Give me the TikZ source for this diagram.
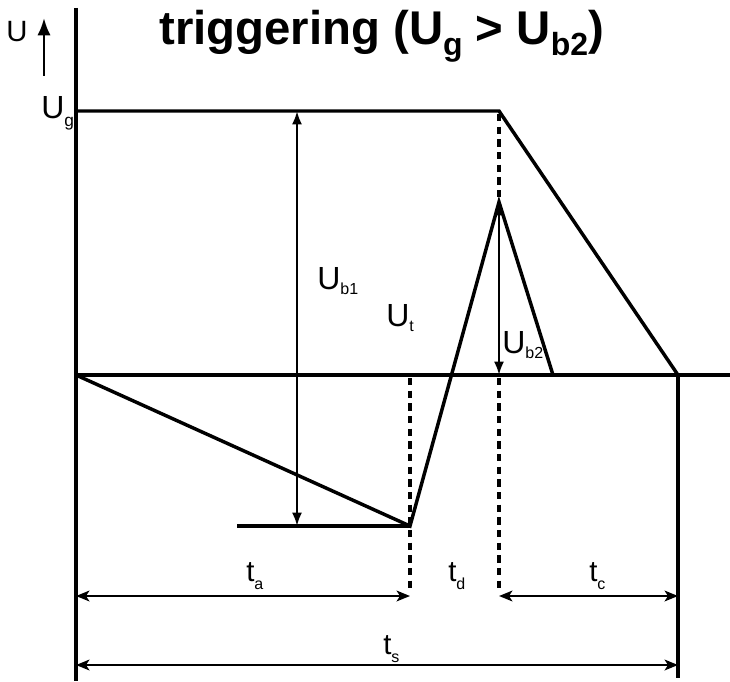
\documentclass[tikz,border=0pt]{standalone}
\usepackage{fontspec}
\setmainfont{Liberation Sans}
\usetikzlibrary{arrows.meta}
\newcommand\dnsub[3]{\raisebox{-#1}{\fontsize{#2}{#2}\selectfont #3}}
\begin{document}
\begin{tikzpicture}[x=0.75pt,y=-0.75pt,
  mainln/.style={line width=2.6pt,line join=miter},
  axisln/.style={line width=3.3pt},
  dimarrow/.style={line width=1.8pt,{Stealth[length=10pt,width=8pt,inset=2.5pt]}-{Stealth[length=10pt,width=8pt,inset=2.5pt]}},
  vararrow/.style={line width=1.8pt,{Latex[length=10pt,width=7.5pt]}-{Latex[length=10pt,width=7.5pt]}},
  dashln/.style={line width=2.6pt,dash pattern=on 5.5pt off 4pt},
  ulbl/.style={inner sep=0pt,anchor=base west,font=\fontsize{24}{24}\selectfont},
  tlbl/.style={inner sep=0pt,anchor=base west,font=\fontsize{22}{22}\selectfont},
]
\useasboundingbox (0,0) rectangle (730,681);
% points
\coordinate (axTop) at (76,8);
\coordinate (axBot) at (76,681);
\coordinate (O) at (76,375);
\coordinate (baseEnd) at (730,375);
\coordinate (G0) at (76,111);
\coordinate (G1) at (499,111);
\coordinate (R) at (678,375);
\coordinate (Rbot) at (678,678);
\coordinate (P) at (499,202);
\coordinate (F) at (553,375);
\coordinate (T) at (410,526);
\coordinate (L0) at (237,526);
\coordinate (A1top) at (297,111);
\coordinate (A1bot) at (297,526);
\coordinate (B2bot) at (499,375);
\coordinate (Ua) at (44,76);
\coordinate (Ub) at (44,18);
\coordinate (D1a) at (410,378);
\coordinate (D1b) at (410,590);
\coordinate (D2a) at (499,378);
\coordinate (D2b) at (499,590);
\coordinate (D3a) at (499,114);
\coordinate (taL) at (76,596);
\coordinate (taR) at (410,596);
\coordinate (tcL) at (499,596);
\coordinate (tcR) at (678,596);
\coordinate (tsL) at (76,665);
\coordinate (tsR) at (678,665);

% axes
\draw[axisln] (axTop) -- (axBot);
\draw[axisln] (O) -- (baseEnd);
\draw[axisln] (R) -- (Rbot);
\draw[line width=2pt,-{Latex[length=13pt,width=10pt]}] (Ua) -- (Ub);

% curves
\draw[mainln] (G0) -- (G1) -- (R);
\draw[mainln] (O) -- (T) -- (P) -- (F);
\draw[mainln] (L0) -- (T);

% dashed
\draw[dashln] (D3a) -- (P);
\draw[dashln] (D1a) -- (D1b);
\draw[dashln] (D2a) -- (D2b);

% voltage arrows
\draw[vararrow] (A1bot) -- (A1top);
\draw[vararrow] (P) -- (B2bot);

% time arrows
\draw[dimarrow] (taL) -- (taR);
\draw[dimarrow] (tcL) -- (tcR);
\draw[dimarrow] (tsL) -- (tsR);

% labels
\node[inner sep=0pt,anchor=base west,font=\bfseries\fontsize{35.5}{35.5}\selectfont] (title) at (159,45)
  {triggering (U\dnsub{8pt}{24}{g} > U\dnsub{8pt}{24}{b2})};
\node[inner sep=0pt,anchor=base west,font=\fontsize{22}{22}\selectfont] (lU) at (6,42) {U};
\node[ulbl] (lUg) at (41,118) {U\dnsub{6pt}{13}{g}};
\node[ulbl] (lUb1) at (317,289) {U\dnsub{4pt}{12}{b1}};
\node[ulbl] (lUt) at (386,326) {U\dnsub{4pt}{12}{t}};
\node[ulbl] (lUb2) at (502,353) {U\dnsub{4pt}{12}{b2}};
\node[tlbl] (lta) at (246,581) {t\dnsub{6pt}{12}{a}};
\node[tlbl] (ltd) at (448,581) {t\dnsub{6pt}{12}{d}};
\node[tlbl] (ltc) at (589,581) {t\dnsub{6pt}{12}{c}};
\node[tlbl] (lts) at (383,654) {t\dnsub{6pt}{12}{s}};
\end{tikzpicture}
\end{document}
